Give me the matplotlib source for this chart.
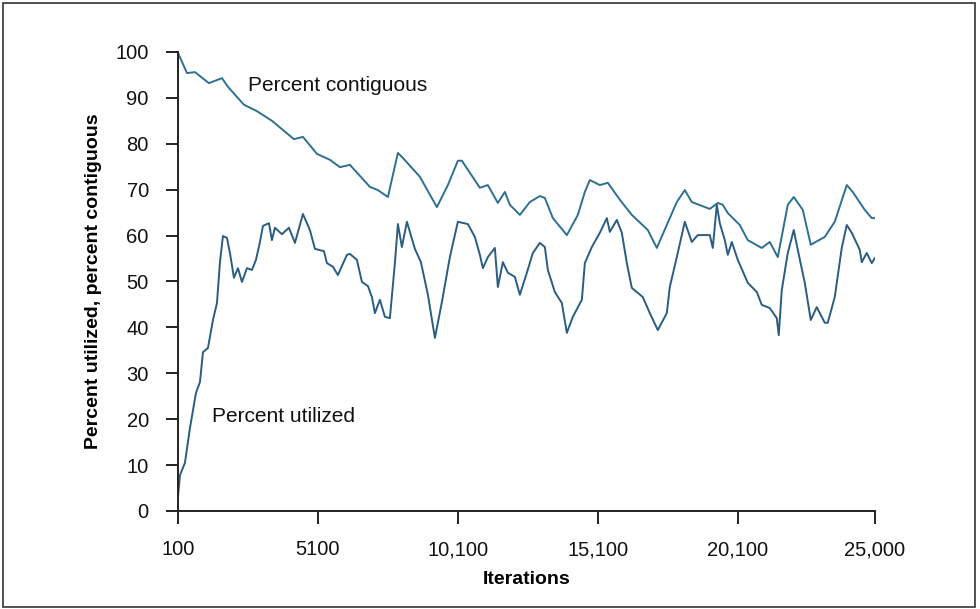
import matplotlib
matplotlib.use("Agg")
import matplotlib.pyplot as plt
from matplotlib.patches import Rectangle

# iterations / percent values
contig_iter = [100, 421, 707, 1207, 1671, 1886, 2457, 2921, 3457, 4243, 4564, 5064,
               5529, 5886, 6243, 6957, 7243, 7600, 7957, 8136, 8743, 9350, 9743,
               10100, 10243, 10886, 11171, 11529, 11779, 11957, 12314, 12671, 13029,
               13207, 13493, 13993, 14386, 14636, 14814, 15171, 15457, 15886, 16314,
               16886, 17207, 17564, 17921, 18207, 18457, 19100, 19386, 19564, 19743,
               20171, 20457, 20957, 21243, 21529, 21886, 22100, 22421, 22707, 23207,
               23564, 23993, 24207, 24636, 24886, 25000]
contig_pct = [99.8, 95.4, 95.6, 93.2, 94.3, 92.4, 88.5, 87.1, 85.0, 81.0, 81.5, 77.8,
              76.5, 74.9, 75.4, 70.6, 69.9, 68.4, 78.0, 76.9, 72.8, 66.2, 71.0,
              76.3, 76.3, 70.4, 71.0, 67.1, 69.5, 66.7, 64.5, 67.3, 68.6,
              68.2, 63.8, 60.1, 64.5, 69.5, 72.1, 71.0, 71.5, 67.8, 64.5,
              61.2, 57.3, 62.3, 67.3, 69.9, 67.3, 65.8, 67.1, 66.7, 64.9,
              62.3, 59.0, 57.3, 58.6, 55.3, 66.7, 68.4, 65.6, 58.0, 59.7,
              63.0, 71.0, 69.5, 65.6, 63.8, 63.8]

util_iter = [100, 171, 350, 529, 743, 886, 993, 1171, 1350, 1493, 1600, 1707, 1850,
             1957, 2100, 2243, 2386, 2564, 2743, 2886, 3029, 3136, 3350, 3457, 3564,
             3814, 4064, 4279, 4564, 4814, 4993, 5314, 5421, 5636, 5814, 6136, 6243,
             6493, 6671, 6886, 7029, 7136, 7314, 7493, 7671, 7850, 7957, 8100, 8279,
             8564, 8779, 9029, 9279, 9529, 9814, 10100, 10457, 10707, 10886, 10993,
             11171, 11421, 11529, 11707, 11886, 12136, 12314, 12564, 12779, 13029,
             13207, 13314, 13564, 13814, 13993, 14207, 14529, 14636, 14886, 15171,
             15421, 15529, 15779, 15957, 16136, 16314, 16707, 16957, 17243, 17564,
             17671, 17921, 18207, 18457, 18671, 19100, 19207, 19350, 19457, 19636,
             19743, 19886, 20100, 20457, 20779, 20957, 21243, 21493, 21564, 21671,
             21886, 22100, 22243, 22493, 22707, 22921, 23207, 23314, 23564, 23814,
             23993, 24171, 24457, 24529, 24707, 24886, 25000]
util_pct = [3.1, 7.8, 10.5, 18.1, 25.7, 28.1, 34.6, 35.5, 41.6, 45.3, 54.2, 59.9, 59.5,
            56.2, 50.8, 52.9, 49.9, 52.9, 52.5, 54.7, 58.6, 62.1, 62.7, 59.0, 61.7,
            60.3, 61.7, 58.4, 64.7, 61.2, 57.1, 56.6, 54.0, 53.2, 51.4, 55.8, 56.0,
            54.7, 49.9, 49.0, 46.6, 43.1, 46.0, 42.3, 42.0, 54.0, 62.5, 57.5, 63.0,
            57.1, 54.2, 47.1, 37.7, 45.5, 55.3, 63.0, 62.5, 59.7, 55.8, 52.9,
            55.3, 57.3, 48.8, 54.2, 51.9, 51.0, 47.1, 51.9, 56.2, 58.4,
            57.5, 52.5, 47.7, 45.3, 38.8, 42.3, 46.0, 54.0, 57.5, 60.6,
            63.8, 60.8, 63.4, 60.6, 54.0, 48.6, 46.6, 43.1, 39.4, 43.1,
            48.8, 55.3, 63.0, 58.6, 60.1, 60.1, 57.3, 66.7, 62.7, 59.0,
            55.8, 58.6, 54.7, 49.7, 47.7, 44.9, 44.2, 42.0, 38.3, 48.1,
            56.2, 61.2, 56.9, 49.7, 41.6, 44.4, 41.0, 41.0, 46.6, 57.3,
            62.3, 60.6, 56.9, 54.2, 56.2, 54.0, 55.1]

x_ticks = [100, 5100, 10100, 15100, 20100, 25000]
x_tick_labels = ["100", "5100", "10,100", "15,100", "20,100", "25,000"]
y_ticks = [0, 10, 20, 30, 40, 50, 60, 70, 80, 90, 100]

plt.rcParams["font.family"] = ["Liberation Sans", "DejaVu Sans"]

fig = plt.figure(figsize=(9.8, 6.09), dpi=100)
ax = fig.add_axes([0.1816, 0.161, 0.7112, 0.7537])

ax.plot(contig_iter, contig_pct, color="#2d7093", lw=1.4)
ax.plot(util_iter, util_pct, color="#295d82", lw=1.4)

ax.set_xlim(100, 25000)
ax.set_ylim(0, 100)
ax.set_xticks(x_ticks)
ax.set_xticklabels(x_tick_labels)
ax.set_yticks(y_ticks)

for side in ["top", "right"]:
    ax.spines[side].set_visible(False)
for side in ["left", "bottom"]:
    ax.spines[side].set_linewidth(1.4)
    ax.spines[side].set_color("#222222")

ax.tick_params(axis="both", direction="out", length=9, width=1.4, pad=12,
               color="#222222", labelsize=14.5, labelcolor="#111111")

ax.set_xlabel("Iterations", fontsize=14, fontweight="bold")
ax.set_ylabel("Percent utilized, percent contiguous", fontsize=14, fontweight="bold")
ax.xaxis.set_label_coords(0.5, -0.131)
ax.yaxis.set_label_coords(-0.109, 0.5)

ax.text(2600, 92.6, "Percent contiguous", fontsize=15, va="center", ha="left",
        color="#111111")
ax.text(1314, 20.5, "Percent utilized", fontsize=15, va="center", ha="left",
        color="#111111")

# thin frame around the whole picture
fig.patches.append(Rectangle((0.003, 0.003), 0.992, 0.992, transform=fig.transFigure,
                             fill=False, edgecolor="#333333", lw=1.2))

fig.savefig("out.png", dpi=100)
